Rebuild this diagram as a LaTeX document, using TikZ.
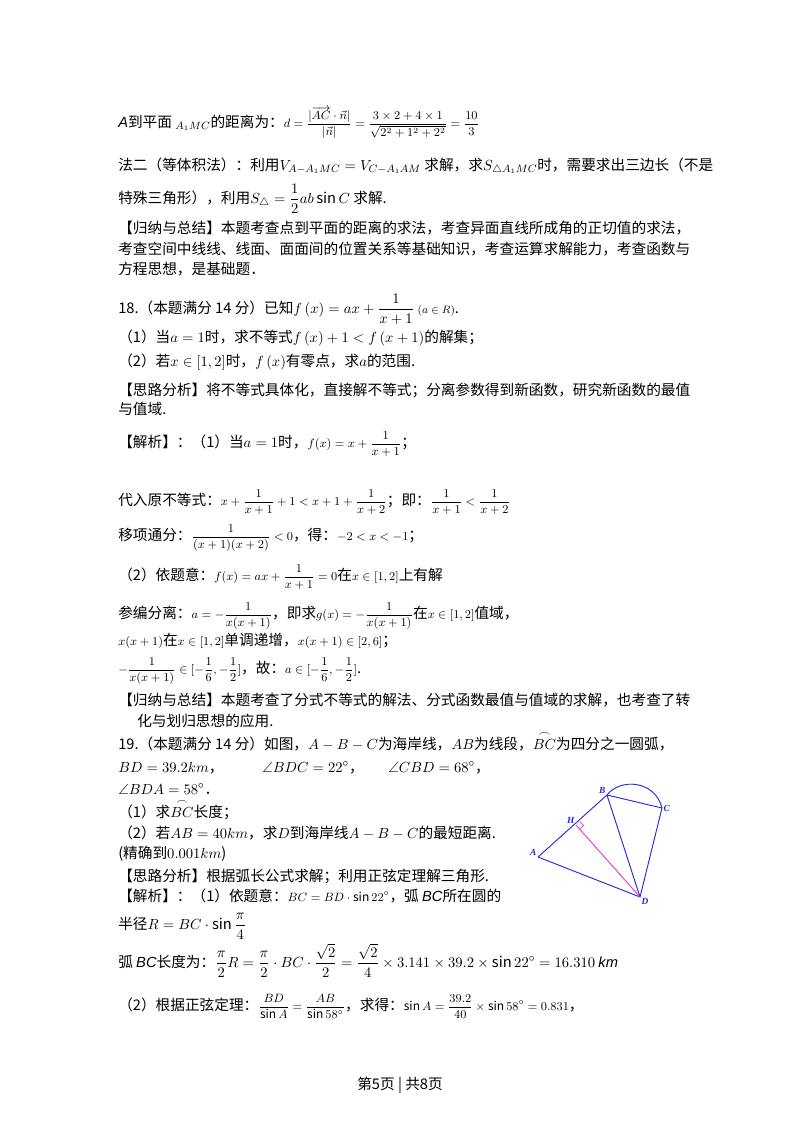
\documentclass[tikz,border=0pt]{standalone}
\usepackage{amsmath,amssymb}
\usepackage{fontspec}
\setmainfont{Noto Sans CJK SC}
\newfontfamily\lsans{Liberation Sans}
\newfontfamily\lserif{Liberation Serif}
\usetikzlibrary{calc}
\definecolor{gblue}{RGB}{40,40,220}
\definecolor{gmag}{RGB}{230,40,230}
\tikzset{ln/.style={anchor=base west,inner sep=0pt,font=\fontsize{11}{13}\selectfont},
 gl/.style={font=\fontsize{7}{8}\selectfont\lserif\itshape\bfseries,text=gblue,inner sep=1pt},
 gline/.style={gblue,line width=0.7pt}}
\newcommand{\arcBC}{\mathop{BC}\limits^{\frown}}
\newcommand{\itl}[1]{{\lsans\itshape #1}}
\begin{document}
\begin{tikzpicture}[x=0.75pt,y=-0.75pt]
\useasboundingbox[fill=white] (0,0) rectangle (800,1132);
\node[ln] (t1) at (118,127) {\itl{A}到平面 $_{A_1MC}$的距离为：{\small $d=\dfrac{|\overrightarrow{AC}\cdot\vec n|}{|\vec n|}=\dfrac{3\times2+4\times1}{\sqrt{2^2+1^2+2^2}}=\dfrac{10}{3}$}};
\node[ln] (t2) at (118,170) {法二（等体积法）：利用$V_{A-A_1MC}=V_{C-A_1AM}$ 求解，求$S_{\triangle A_1MC}$时，需要求出三边长（不是};
\node[ln] (t3) at (118,203) {特殊三角形），利用$S_\triangle=\dfrac12ab\sin C$ 求解.};
\node[ln] (t4) at (118,233) {【归纳与总结】本题考查点到平面的距离的求法，考查异面直线所成角的正切值的求法，};
\node[ln] (t5) at (118,254) {考查空间中线线、线面、面面间的位置关系等基础知识，考查运算求解能力，考查函数与};
\node[ln] (t6) at (118,274) {方程思想，是基础题．};
\node[ln] (t7) at (118,313) {18.（本题满分 14 分）已知$f\left(x\right)=ax+\dfrac{1}{x+1}$ {\footnotesize$(a\in R)$}.};
\node[ln] (t8) at (118,342) {（1）当$a=1$时，求不等式$f\left(x\right)+1<f\left(x+1\right)$的解集；};
\node[ln] (t9) at (118,366) {（2）若$x\in\left[1,2\right]$时，$f\left(x\right)$有零点，求$a$的范围.};
\node[ln] (t10) at (118,395) {【思路分析】将不等式具体化，直接解不等式；分离参数得到新函数，研究新函数的最值};
\node[ln] (t11) at (118,414) {与值域.};
\node[ln] (t12) at (118,447) {【解析】：（1）当$a=1$时，{\small$f(x)=x+\dfrac{1}{x+1}$}；};
\node[ln] (t13) at (118,505) {代入原不等式：{\small$x+\dfrac{1}{x+1}+1<x+1+\dfrac{1}{x+2}$}；即：{\small$\dfrac{1}{x+1}<\dfrac{1}{x+2}$}};
\node[ln] (t14) at (118,540) {移项通分：{\small$\dfrac{1}{(x+1)(x+2)}<0$}，得：{\small$-2<x<-1$}；};
\node[ln] (t15) at (118,580) {（2）依题意：{\small$f(x)=ax+\dfrac{1}{x+1}=0$}在{\small$x\in[1,2]$}上有解};
\node[ln] (t16) at (118,618) {参编分离：{\small$a=-\dfrac{1}{x(x+1)}$}，即求{\small$g(x)=-\dfrac{1}{x(x+1)}$}在{\small$x\in[1,2]$}值域，};
\node[ln] (t17) at (118,645) {{\small$x(x+1)$}在{\small$x\in[1,2]$}单调递增，{\small$x(x+1)\in[2,6]$}；};
\node[ln] (t18) at (118,673) {{\small$-\dfrac{1}{x(x+1)}\in[-\dfrac16,-\dfrac12]$}，故：{\small$a\in[-\dfrac16,-\dfrac12]$}.};
\node[ln] (t19) at (118,705) {【归纳与总结】本题考查了分式不等式的解法、分式函数最值与值域的求解，也考查了转};
\node[ln] (t20) at (137,726) {化与划归思想的应用.};
\node[ln] (t21) at (118,749) {19.（本题满分 14 分）如图，$A-B-C$为海岸线，$AB$为线段，$\arcBC$为四分之一圆弧，};
\node[ln] (t22) at (118,772) {$BD=39.2km$，};
\node[ln] (t23) at (262,772) {$\angle BDC=22^\circ$，};
\node[ln] (t24) at (388,772) {$\angle CBD=68^\circ$，};
\node[ln] (t25) at (118,794) {$\angle BDA=58^\circ$．};
\node[ln] (t26) at (118,817) {（1）求$\arcBC$长度；};
\node[ln] (t27) at (118,838) {（2）若$AB=40km$，求$D$到海岸线$A-B-C$的最短距离.};
\node[ln] (t28) at (118,858) {(精确到$0.001km$)};
\node[ln] (t29) at (118,881) {【思路分析】根据弧长公式求解；利用正弦定理解三角形.};
\node[ln] (t30) at (118,901) {【解析】：（1）依题意：{\small$BC=BD\cdot\sin22^\circ$}，弧 \itl{BC}所在圆的};
\node[ln] (t31) at (118,929) {半径$R=BC\cdot\sin\dfrac{\pi}{4}$};
\node[ln] (t32) at (118,967) {弧 \itl{BC}长度为：$\dfrac{\pi}{2}R=\dfrac{\pi}{2}\cdot BC\cdot\dfrac{\sqrt2}{2}=\dfrac{\sqrt2}{4}\times3.141\times39.2\times\sin22^\circ=16.310$ \itl{km}};
\node[ln] (t33) at (118,1010) {（2）根据正弦定理：{\small$\dfrac{BD}{\sin A}=\dfrac{AB}{\sin58^\circ}$}，求得：{\small$\sin A=\dfrac{39.2}{40}\times\sin58^\circ=0.831$}，};
\node[ln,anchor=base] (pg) at (400,1089) {第5页 | 共8页};
% figure
\coordinate (A) at (538,857);
\coordinate (H) at (576,825);
\coordinate (B) at (607,795);
\coordinate (C) at (662,808);
\coordinate (D) at (640,897);
\draw[gline] (A)--(B)--(C)--(D)--(A);
\draw[gline] (B)--(D);
\draw[gline] (B) .. controls (620,778) and (655,780) .. (C);
\draw[gmag,line width=0.6pt] (H)--(D);
\draw[gmag,line width=0.5pt] ($(H)!4pt!(D)$) -- ($(H)!4pt!(D)!4pt!90:(D)$) -- ($(H)!4pt!(B)$);
\node[gl,above left] (lA) at (A) {A};
\node[gl,above left] (lH) at (H) {H};
\node[gl,above left] (lB) at (B) {B};
\node[gl,right] (lC) at (C) {C};
\node[gl,below right] (lD) at (D) {D};
\end{tikzpicture}
\end{document}
